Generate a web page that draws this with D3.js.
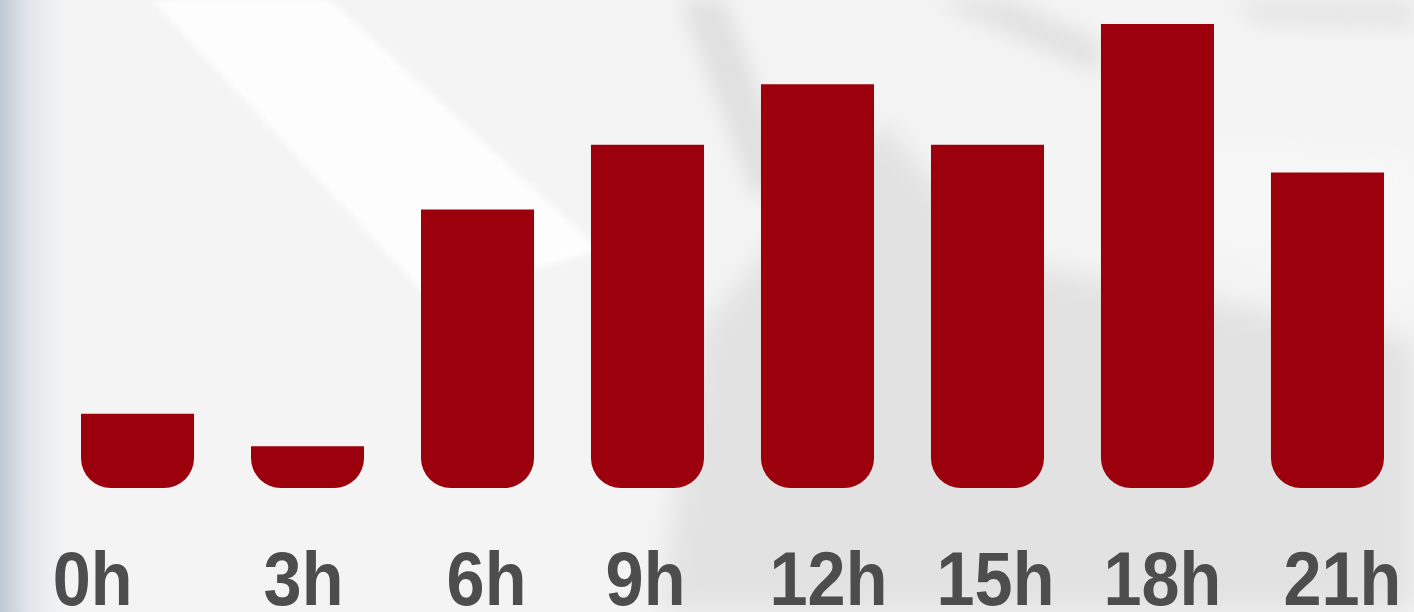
<!DOCTYPE html>
<html>
<head>
<meta charset="utf-8">
<script src="https://cdn.jsdelivr.net/npm/d3@7"></script>
<style>
  html, body { margin: 0; padding: 0; background: #f4f4f4; }
  svg { display: block; }
</style>
</head>
<body>
<div id="chart"></div>
<script>
// Hour buckets and relative bar heights (tallest = 100)
const hours = ['0h', '3h', '6h', '9h', '12h', '15h', '18h', '21h'];
const values = [16, 9, 60, 74, 87, 74, 100, 68];

const width = 1414;
const height = 612;

const svg = d3.select('#chart').append('svg')
  .attr('width', width)
  .attr('height', height);

const defs = svg.append('defs');

// soft blurs for the photo-like backdrop
[['blur', 14], ['blurMid', 10], ['blurSmall', 3]].forEach(([id, sd]) => {
  defs.append('filter').attr('id', id)
    .attr('x', '-50%').attr('y', '-50%').attr('width', '200%').attr('height', '200%')
    .append('feGaussianBlur').attr('stdDeviation', sd);
});

const leftGrad = defs.append('linearGradient').attr('id', 'leftGrad')
  .attr('x1', 0).attr('x2', 1).attr('y1', 0).attr('y2', 0);
leftGrad.append('stop').attr('offset', '0%').attr('stop-color', '#bfc8d3');
leftGrad.append('stop').attr('offset', '30%').attr('stop-color', '#dde2e8');
leftGrad.append('stop').attr('offset', '100%').attr('stop-color', '#f4f4f4').attr('stop-opacity', 0);

// Backdrop
const bg = svg.append('g');
bg.append('rect').attr('width', width).attr('height', height).attr('fill', '#f4f4f4');
// grey shaded area towards the lower right
bg.append('path')
  .attr('d', 'M700,330 L880,120 L1000,260 L1414,340 L1414,612 L660,612 Z')
  .attr('fill', '#e2e2e2').attr('filter', 'url(#blur)');
// lighter streak across the right side
bg.append('path')
  .attr('d', 'M1100,140 L1414,160 L1414,300 L1180,230 Z')
  .attr('fill', '#f7f7f7').attr('filter', 'url(#blur)');
bg.append('rect').attr('width', 80).attr('height', height).attr('fill', 'url(#leftGrad)');
// diagonal highlight band on the left
bg.append('path')
  .attr('d', 'M152,0 L330,0 L600,250 L430,300 Z')
  .attr('fill', '#ffffff')
  .attr('opacity', 0.9)
  .attr('filter', 'url(#blurSmall)');
// blurry darker streaks near the top
bg.append('path')
  .attr('d', 'M680,0 L725,0 L790,180 L755,200 Z')
  .attr('fill', '#e0e0e0').attr('filter', 'url(#blurMid)');
bg.append('path')
  .attr('d', 'M930,0 L1010,0 L1100,40 L1100,75 Z')
  .attr('fill', '#e2e2e2').attr('filter', 'url(#blurMid)');
bg.append('path')
  .attr('d', 'M1230,0 L1414,0 L1414,30 L1260,25 Z')
  .attr('fill', '#e6e6e6').attr('filter', 'url(#blurMid)');

// Scales
const baseline = 488;
const x = d3.scaleBand()
  .domain(hours)
  .range([81, 1384])
  .paddingInner(0.335)
  .paddingOuter(0);

const y = d3.scaleLinear()
  .domain([0, 100])
  .range([baseline, 24]);

const r = 30;

// flat top, rounded bottom corners
function barPath(d, i) {
  const x0 = x(hours[i]);
  const w = x.bandwidth();
  const top = y(d);
  const rr = Math.min(r, baseline - top);
  return `M${x0},${top}` +
    `H${x0 + w}` +
    `V${baseline - rr}` +
    `A${rr},${rr} 0 0 1 ${x0 + w - rr},${baseline}` +
    `H${x0 + rr}` +
    `A${rr},${rr} 0 0 1 ${x0},${baseline - rr}` +
    `Z`;
}

svg.append('g')
  .selectAll('path')
  .data(values)
  .enter()
  .append('path')
  .attr('d', barPath)
  .attr('fill', '#9b000c');

// Labels sit a bit off the bar centres in the original, and are slightly condensed
const labelShift = [-45, -4, 9, -2, 11, 8, 5, 15];
const labelY = 605;

svg.append('g')
  .selectAll('text')
  .data(hours)
  .enter()
  .append('text')
  .attr('transform', (d, i) => {
    const cx = x(d) + x.bandwidth() / 2 + labelShift[i];
    return `translate(${cx},${labelY}) scale(0.9,1)`;
  })
  .attr('text-anchor', 'middle')
  .attr('font-family', '"Liberation Sans", Arial, sans-serif')
  .attr('font-weight', 'bold')
  .attr('font-size', '76px')
  .attr('fill', '#4d4d4d')
  .text(d => d);
</script>
</body>
</html>
